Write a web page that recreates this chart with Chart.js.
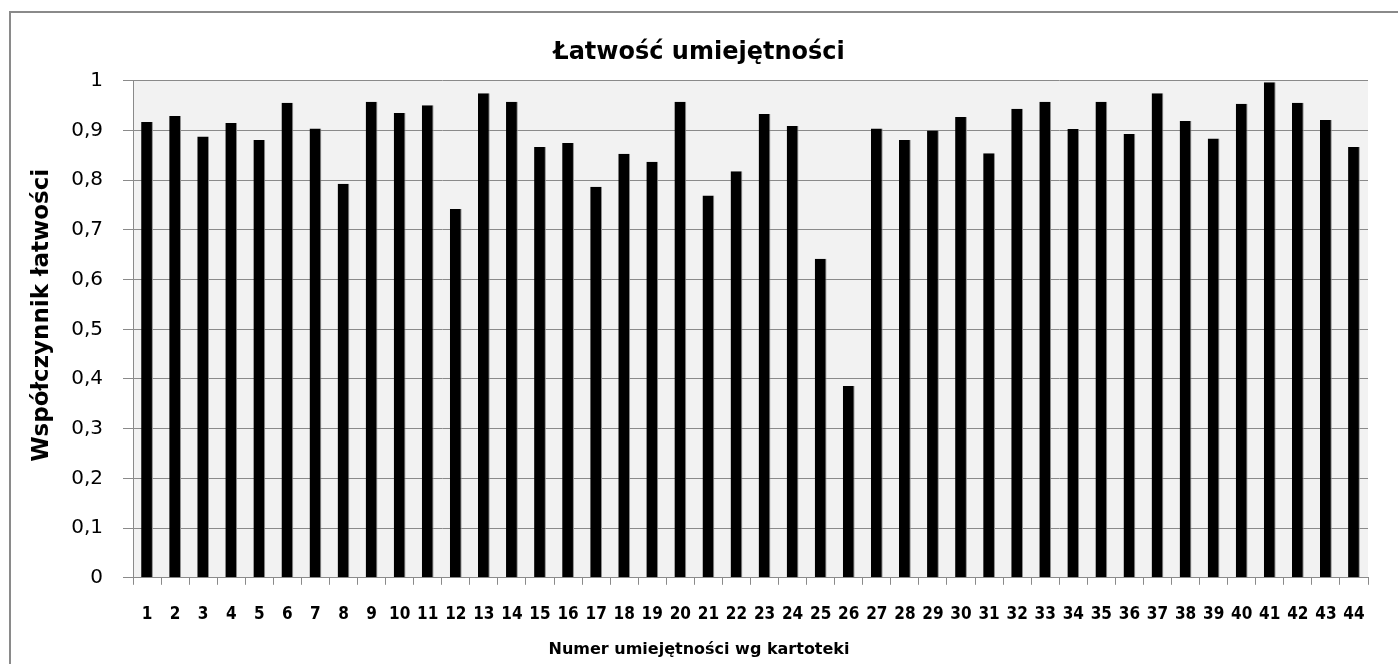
<!DOCTYPE html>
<html>
<head>
<meta charset="utf-8">
<script src="https://cdn.jsdelivr.net/npm/chart.js@4/dist/chart.umd.min.js"></script>
<style>
  html, body { margin: 0; padding: 0; background: #fff; }
  #wrap { width: 1398px; height: 664px; }
</style>
</head>
<body>
<div id="wrap"><canvas id="myChart" width="1398" height="664"></canvas></div>
<script>
var chartTitle = 'Łatwość umiejętności';
var xTitle = 'Numer umiejętności wg kartoteki';
var yTitle = 'Współczynnik łatwości';

var labels = [];
for (var i = 1; i <= 44; i++) {
	labels.push(String(i));
}

var values = [
	0.917, 0.929, 0.888, 0.915, 0.881, 0.956, 0.904, 0.793, 0.958, 0.935,
	0.951, 0.742, 0.975, 0.958, 0.867, 0.875, 0.787, 0.853, 0.837, 0.958,
	0.769, 0.818, 0.933, 0.909, 0.642, 0.386, 0.904, 0.881, 0.900, 0.927,
	0.854, 0.944, 0.958, 0.903, 0.958, 0.893, 0.975, 0.919, 0.884, 0.954,
	0.997, 0.956, 0.921, 0.867
];

// plot background, outer frame and the y axis title
var frame = {
	id: 'frame',
	beforeDraw: function (chart) {
		var c = chart.ctx;
		var a = chart.chartArea;
		c.save();
		c.fillStyle = '#f2f2f2';
		c.fillRect(a.left, a.top, a.right - a.left, a.bottom - a.top);
		c.strokeStyle = '#8a8a8a';
		c.lineWidth = 2;
		c.beginPath();
		c.moveTo(10, 664);
		c.lineTo(10, 12);
		c.lineTo(1398, 12);
		c.stroke();
		c.restore();
	},
	afterDraw: function (chart) {
		var c = chart.ctx;
		var a = chart.chartArea;
		c.save();
		c.translate(42, (a.top + a.bottom) / 2 - 14);
		c.rotate(-Math.PI / 2);
		c.fillStyle = '#000';
		c.font = 'bold 23px "DejaVu Sans"';
		c.textAlign = 'center';
		c.textBaseline = 'middle';
		c.fillText(yTitle, 0, 0);
		c.restore();
	}
};

var ctx = document.getElementById('myChart').getContext('2d');
var chart = new Chart(ctx, {
	type: 'bar',
	data: {
		labels: labels,
		datasets: [{
			data: values,
			backgroundColor: '#000000',
			borderColor: '#8f8f8f',
			borderWidth: { top: 0, right: 1, bottom: 0, left: 0 },
			borderSkipped: false,
			barPercentage: 0.42,
			categoryPercentage: 1.0
		}]
	},
	options: {
		responsive: false,
		animation: false,
		layout: { padding: { left: 30, right: 30, top: 0, bottom: 0 } },
		plugins: {
			legend: { display: false },
			tooltip: { enabled: false },
			title: {
				display: true,
				text: chartTitle,
				color: '#000',
				font: { family: 'DejaVu Sans', size: 24, weight: 'bold' },
				padding: { top: 38, bottom: 14 }
			},
			subtitle: {
				display: true,
				position: 'bottom',
				text: xTitle,
				color: '#000',
				font: { family: 'DejaVu Sans', size: 16, weight: 'bold' },
				padding: { top: 0, bottom: 5 }
			}
		},
		scales: {
			x: {
				grid: {
					offset: true,
					drawOnChartArea: false,
					drawTicks: true,
					tickLength: 7,
					color: '#8a8a8a'
				},
				border: { color: '#8a8a8a' },
				ticks: {
					autoSkip: false,
					maxRotation: 0,
					minRotation: 0,
					padding: 20,
					color: '#000',
					font: { family: 'DejaVu Sans Condensed', size: 17, weight: 'bold' }
				},
				afterFit: function (scale) {
					scale.height = 62;
					scale.paddingRight = 0;
				}
			},
			y: {
				min: 0,
				max: 1,
				ticks: {
					stepSize: 0.1,
					padding: 20,
					color: '#000',
					font: { family: 'DejaVu Sans', size: 20 },
					callback: function (v) {
						if (v === 0 || v === 1) return String(v);
						return v.toFixed(1).replace('.', ',');
					}
				},
				grid: { color: '#8a8a8a', tickLength: 10 },
				border: { color: '#8a8a8a' },
				afterFit: function (scale) { scale.width = 103; }
			}
		}
	},
	plugins: [frame]
});
</script>
</body>
</html>
